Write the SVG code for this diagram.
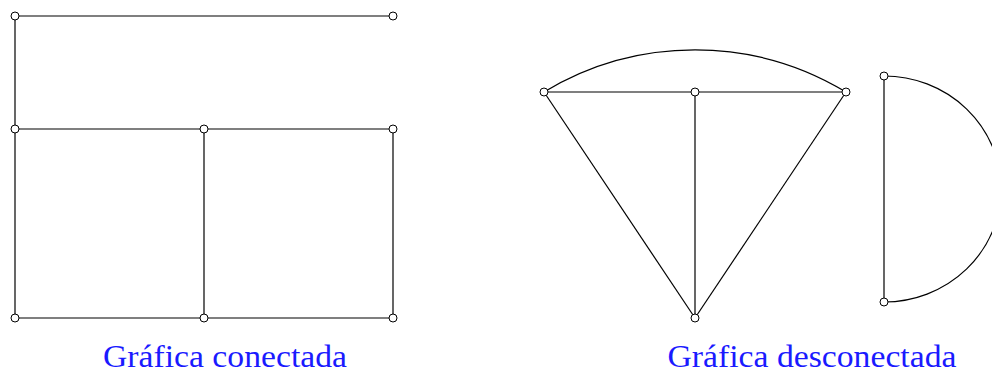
<svg xmlns="http://www.w3.org/2000/svg" width="992" height="373" viewBox="0 0 992 373">
<style>
.e{stroke:#000;stroke-width:1.2;fill:none}
.v{fill:#fff;stroke:#000;stroke-width:1}
.t{font-family:"Liberation Serif",serif;font-size:31px;fill:#1a1aff;text-anchor:middle}
</style>
<rect width="992" height="373" fill="#fff"/>
<g id="connectors">
<line class="e" x1="15" y1="16" x2="393" y2="16"/>
<line class="e" x1="15" y1="16" x2="15" y2="318"/>
<line class="e" x1="15" y1="129" x2="393" y2="129"/>
<line class="e" x1="204" y1="129" x2="204" y2="318"/>
<line class="e" x1="393" y1="129" x2="393" y2="318"/>
<line class="e" x1="15" y1="318" x2="393" y2="318"/>
<path class="e" d="M544,92 A292,292 0 0 1 846,92"/>
<line class="e" x1="544" y1="92" x2="846" y2="92"/>
<line class="e" x1="544" y1="92" x2="695" y2="318"/>
<line class="e" x1="846" y1="92" x2="695" y2="318"/>
<line class="e" x1="695" y1="92" x2="695" y2="318"/>
<line class="e" x1="884" y1="76" x2="884" y2="302"/>
<path class="e" d="M884,76 A117,113 0 0 1 884,302"/>
</g>
<g id="n1"><circle class="v" cx="15" cy="16" r="4"/></g>
<g id="n2"><circle class="v" cx="393" cy="16" r="4"/></g>
<g id="n3"><circle class="v" cx="15" cy="129" r="4"/></g>
<g id="n4"><circle class="v" cx="204" cy="129" r="4"/></g>
<g id="n5"><circle class="v" cx="393" cy="129" r="4"/></g>
<g id="n6"><circle class="v" cx="15" cy="318" r="4"/></g>
<g id="n7"><circle class="v" cx="204" cy="318" r="4"/></g>
<g id="n8"><circle class="v" cx="393" cy="318" r="4"/></g>
<g id="m1"><circle class="v" cx="544" cy="92" r="4"/></g>
<g id="m2"><circle class="v" cx="695" cy="92" r="4"/></g>
<g id="m3"><circle class="v" cx="846" cy="92" r="4"/></g>
<g id="m4"><circle class="v" cx="695" cy="318" r="4"/></g>
<g id="m5"><circle class="v" cx="884" cy="76" r="4"/></g>
<g id="m6"><circle class="v" cx="884" cy="302" r="4"/></g>
<g id="labels">
<text class="t" x="225" y="367" textLength="244" lengthAdjust="spacingAndGlyphs">Gráfica conectada</text>
<text class="t" x="812" y="367" textLength="289" lengthAdjust="spacingAndGlyphs">Gráfica desconectada</text>
</g>
</svg>
